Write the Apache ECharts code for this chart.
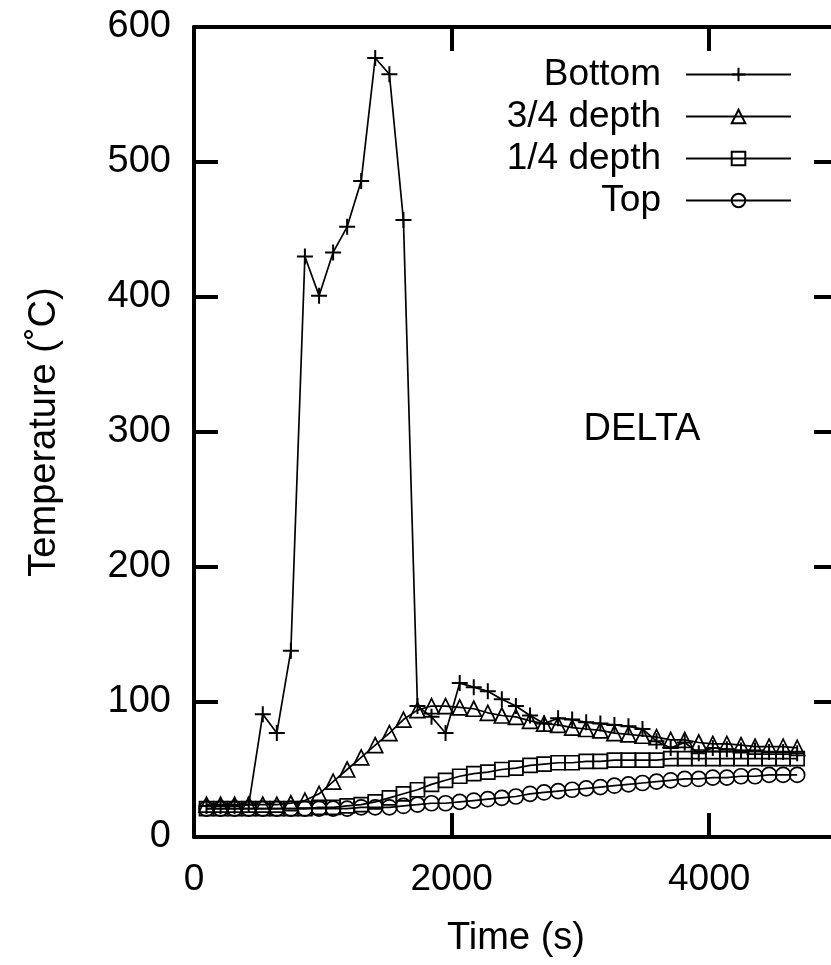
<!DOCTYPE html>
<html>
<head>
<meta charset="utf-8">
<script src="https://cdn.jsdelivr.net/npm/echarts@6/dist/echarts.min.js"></script>
<style>
  html, body { margin: 0; padding: 0; background: #fff; overflow: hidden; }
  /* wider than the window: the right edge of the frame falls outside, as in the original */
  #chart { width: 850px; height: 965px; }
</style>
</head>
<body>
<div id="chart"></div>
<script>
// time of each sample (s)
const times = [97, 206, 315, 425, 534, 643, 752, 861, 971, 1080,
  1189, 1298, 1407, 1517, 1626, 1735, 1844, 1953, 2063, 2172,
  2281, 2390, 2499, 2609, 2718, 2827, 2936, 3045, 3155, 3264,
  3373, 3482, 3591, 3701, 3810, 3919, 4028, 4137, 4247, 4356,
  4465, 4574, 4683]

const bottomVals = [23, 23, 23, 24, 91, 77, 138, 430, 401, 433,
  452, 486, 577, 565, 457, 97, 89, 77, 114, 111,
  108, 102, 97, 90, 84, 88, 87, 85, 84, 83,
  82, 80, 71, 66, 70, 62, 66, 65, 64, 64,
  63, 63, 62]

const depth34Vals = [24, 24, 24, 24, 24, 24, 25, 27, 32, 41,
  50, 59, 68, 77, 87, 94, 97, 97, 96, 95,
  92, 90, 89, 86, 84, 83, 81, 80, 79, 77,
  76, 75, 74, 72, 72, 70, 69, 69, 68, 67,
  67, 67, 66]

const depth14Vals = [21, 21, 21, 21, 21, 21, 21, 21, 22, 22,
  23, 24, 26, 29, 32, 35, 39, 42, 45, 47,
  48, 50, 51, 53, 54, 55, 55, 56, 56, 57,
  57, 57, 57, 58, 58, 58, 58, 58, 58, 58,
  58, 58, 58]

const topVals = [21, 21, 21, 21, 21, 21, 21, 21, 21, 21,
  21, 22, 22, 22, 23, 24, 25, 25, 26, 27,
  28, 29, 30, 32, 33, 34, 35, 36, 37, 38,
  39, 40, 41, 42, 43, 43, 44, 44, 45, 45,
  46, 46, 46]

const seriesNames = ['Bottom', '3/4 depth', '1/4 depth', 'Top']
const xTicks = { min: 0, max: 5000, interval: 2000 }
const yTicks = { min: 0, max: 600, interval: 100 }

const FONT = 'Liberation Sans, Arial, Helvetica, sans-serif'

function pairs (vals) {
  return times.map((t, i) => [t, vals[i]])
}

const chart = echarts.init(document.getElementById('chart'))

const lineCommon = {
  type: 'line',
  xAxisIndex: 0,
  yAxisIndex: 0,
  showAllSymbol: true,
  animation: false,
  lineStyle: { color: '#000', width: 1.7 },
  itemStyle: { color: 'rgba(0,0,0,0)', borderColor: '#000', borderWidth: 1.7 },
  emphasis: { disabled: true }
}

const axisLine = { show: true, onZero: false, lineStyle: { color: '#000', width: 4 } }
const axisTick = { show: true, inside: true, length: 24, lineStyle: { color: '#000', width: 4 } }

chart.setOption({
  backgroundColor: '#fff',
  animation: false,
  grid: { left: 194, top: 27, right: 12, bottom: 128 },
  legend: {
    orient: 'vertical',
    align: 'right',
    right: 58,
    top: 56,
    padding: 0,
    itemWidth: 105,
    itemHeight: 17,
    itemGap: 5,
    selectedMode: false,
    textStyle: { fontFamily: FONT, fontSize: 37, color: '#000', padding: [0, 20, 0, 0] },
    data: seriesNames
  },
  xAxis: [
    {
      type: 'value', position: 'bottom', ...xTicks,
      axisLine, axisTick,
      splitLine: { show: false },
      axisLabel: {
        color: '#000', fontFamily: FONT, fontSize: 37, margin: 24, showMaxLabel: false,
        formatter: v => String(v)
      },
      name: 'Time (s)', nameLocation: 'middle', nameGap: 83,
      nameTextStyle: { color: '#000', fontFamily: FONT, fontSize: 38 }
    },
    {
      type: 'value', position: 'top', ...xTicks,
      axisLine, axisTick,
      splitLine: { show: false },
      axisLabel: { show: false }
    }
  ],
  yAxis: [
    {
      type: 'value', position: 'left', ...yTicks,
      axisLine, axisTick,
      splitLine: { show: false },
      axisLabel: { color: '#000', fontFamily: FONT, fontSize: 38, margin: 23 },
      name: 'Temperature (˚C)', nameLocation: 'middle', nameGap: 130,
      nameTextStyle: { color: '#000', fontFamily: FONT, fontSize: 38 }
    },
    {
      type: 'value', position: 'right', ...yTicks,
      axisLine, axisTick,
      splitLine: { show: false },
      axisLabel: { show: false }
    }
  ],
  graphic: [
    {
      type: 'text', x: 642, y: 430,
      style: { text: 'DELTA', fontFamily: FONT, fontSize: 38, fill: '#000', align: 'center', verticalAlign: 'middle' }
    }
  ],
  series: [
    Object.assign({}, lineCommon, {
      name: seriesNames[0], data: pairs(bottomVals),
      symbol: 'path://M10,0V20M0,10H20', symbolSize: 16,
      itemStyle: { color: 'rgba(0,0,0,0)', borderColor: '#000', borderWidth: 2 }
    }),
    Object.assign({}, lineCommon, {
      name: seriesNames[1], data: pairs(depth34Vals),
      symbol: 'triangle', symbolSize: 15
    }),
    Object.assign({}, lineCommon, {
      name: seriesNames[2], data: pairs(depth14Vals),
      symbol: 'rect', symbolSize: 14
    }),
    Object.assign({}, lineCommon, {
      name: seriesNames[3], data: pairs(topVals),
      symbol: 'circle', symbolSize: 15
    })
  ]
})
</script>
</body>
</html>
